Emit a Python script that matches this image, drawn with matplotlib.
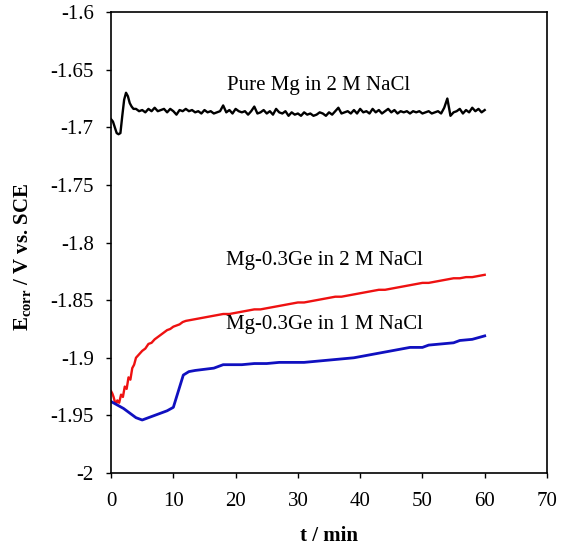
import matplotlib
matplotlib.use("Agg")
import matplotlib.pyplot as plt

plt.rcParams['font.family'] = ['Liberation Serif', 'DejaVu Serif']
plt.rcParams['mathtext.fontset'] = 'custom'
plt.rcParams['mathtext.rm'] = 'Liberation Serif'
plt.rcParams['mathtext.bf'] = 'Liberation Serif:bold'
plt.rcParams['mathtext.it'] = 'Liberation Serif:italic'

# Pure Mg in 2 M NaCl
pure_t = [0, 0.3, 0.6, 0.9, 1.2, 1.5, 1.8, 2.1, 2.4, 2.7, 3.0, 3.3, 3.6,
          4.0, 4.5, 5.0, 5.5, 6.0, 6.5, 7.0, 7.5, 8.0, 8.5,
          9.0, 9.5, 10.0, 10.5, 11.0, 11.5, 12.0, 12.5, 13.0, 13.5,
          14.0, 14.5, 15.0, 15.5, 16.0, 16.5, 17.0, 17.5, 18.0, 18.5,
          19.0, 19.5, 20.0, 20.5, 21.0, 21.5, 22.0, 22.5, 23.0, 23.5,
          24.0, 24.5, 25.0, 25.5, 26.0, 26.5, 27.0, 27.5, 28.0, 28.5,
          29.0, 29.5, 30.0, 30.5, 31.0, 31.5, 32.0, 32.5, 33.0, 33.5,
          34.0, 34.5, 35.0, 35.5, 36.0, 36.5, 37.0, 37.5, 38.0, 38.5,
          39.0, 39.5, 40.0, 40.5, 41.0, 41.5, 42.0, 42.5, 43.0, 43.5,
          44.0, 44.5, 45.0, 45.5, 46.0, 46.5, 47.0, 47.5, 48.0, 48.5,
          49.0, 49.5, 50.0, 50.5, 51.0, 51.5, 52.0, 52.5, 53.0, 53.5,
          54.0, 54.5, 55.0, 55.5, 56.0, 56.5, 57.0, 57.5, 58.0, 58.5,
          59.0, 59.5, 60.0]
pure_e = [-1.693, -1.695, -1.700, -1.705, -1.706, -1.705, -1.690, -1.676, -1.670, -1.673, -1.679, -1.682, -1.684,
          -1.684, -1.686, -1.685, -1.687, -1.684, -1.686, -1.683, -1.686, -1.685, -1.684,
          -1.687, -1.684, -1.686, -1.689, -1.685, -1.686, -1.684, -1.686, -1.685, -1.687,
          -1.686, -1.688, -1.685, -1.687, -1.686, -1.688, -1.687, -1.686, -1.681, -1.687,
          -1.685, -1.688, -1.684, -1.686, -1.687, -1.686, -1.689, -1.686, -1.682, -1.688,
          -1.687, -1.685, -1.688, -1.686, -1.689, -1.684, -1.687, -1.688, -1.686, -1.690,
          -1.687, -1.689, -1.688, -1.690, -1.687, -1.689, -1.688, -1.690, -1.689, -1.687,
          -1.688, -1.690, -1.687, -1.689, -1.686, -1.683, -1.688, -1.687, -1.686, -1.688,
          -1.685, -1.688, -1.684, -1.687, -1.686, -1.688, -1.684, -1.687, -1.685, -1.688,
          -1.686, -1.684, -1.687, -1.685, -1.688, -1.686, -1.687, -1.686, -1.688, -1.686,
          -1.687, -1.686, -1.688, -1.687, -1.686, -1.688, -1.687, -1.686, -1.688, -1.683,
          -1.675, -1.690, -1.687, -1.686, -1.684, -1.688, -1.685, -1.687, -1.683, -1.686,
          -1.684, -1.687, -1.685]

# Mg-0.3Ge in 2 M NaCl
ge2_t = [0, 0.2, 0.4, 0.6, 0.8, 1.0, 1.3, 1.6, 1.9, 2.2, 2.5, 2.8, 3.1, 3.4, 3.7,
         4.0, 4.5, 5.0, 5.5, 6.0, 6.5, 7.0, 7.5, 8.0, 8.5, 9.0, 9.5, 10.0, 10.5,
         11.0, 11.5, 12.0, 13, 14, 15, 16, 17, 18, 19, 20, 21, 22, 23, 24, 25,
         26, 27, 28, 29, 30, 31, 32, 33, 34, 35, 36, 37, 38, 39, 40, 41, 42, 43,
         44, 45, 46, 47, 48, 49, 50, 51, 52, 53, 54, 55, 56, 57, 58, 59, 60]
ge2_e = [-1.929, -1.931, -1.934, -1.938, -1.940, -1.937, -1.939, -1.932, -1.934, -1.925,
         -1.927, -1.917, -1.919, -1.909, -1.906,
         -1.900, -1.897, -1.894, -1.892, -1.888, -1.887, -1.884, -1.882, -1.880, -1.878,
         -1.876, -1.875, -1.873, -1.872, -1.871, -1.869, -1.868,
         -1.867, -1.866, -1.865, -1.864, -1.863, -1.862, -1.862, -1.861, -1.860, -1.859,
         -1.858, -1.858, -1.857, -1.856, -1.855, -1.854, -1.853, -1.852, -1.852, -1.851,
         -1.850, -1.849, -1.848, -1.847, -1.847, -1.846, -1.845, -1.844, -1.843, -1.842,
         -1.841, -1.841, -1.840, -1.839, -1.838, -1.837, -1.836, -1.835, -1.835, -1.834,
         -1.833, -1.832, -1.831, -1.831, -1.830, -1.830, -1.829, -1.828]

# Mg-0.3Ge in 1 M NaCl
ge1_t = [0, 1, 2, 3, 4, 5, 6, 7, 8, 9, 10, 10.8, 11.6, 12.5, 13.5, 15, 16.5, 18, 19,
         21, 23, 25, 27, 29, 31, 33, 35, 37, 39, 41, 43, 45, 47,
         48, 50, 51, 53, 55, 56, 58, 60]
ge1_e = [-1.938, -1.941, -1.944, -1.948, -1.952, -1.954, -1.952, -1.950, -1.948, -1.946, -1.943,
         -1.929, -1.915, -1.912, -1.911, -1.910, -1.909, -1.906, -1.906,
         -1.906, -1.905, -1.905, -1.904, -1.904, -1.904, -1.903, -1.902, -1.901, -1.900,
         -1.898, -1.896, -1.894, -1.892,
         -1.891, -1.891, -1.889, -1.888, -1.887, -1.885, -1.884, -1.881]

labels = ["Pure Mg in 2 M NaCl", "Mg-0.3Ge in 2 M NaCl", "Mg-0.3Ge in 1 M NaCl"]
xticks = [0, 10, 20, 30, 40, 50, 60, 70]
yticks = [-2.0, -1.95, -1.9, -1.85, -1.8, -1.75, -1.7, -1.65, -1.6]
ytick_labels = ["-2", "-1.95", "-1.9", "-1.85", "-1.8", "-1.75", "-1.7", "-1.65", "-1.6"]

fig = plt.figure(figsize=(5.61, 5.5), dpi=100)
ax = fig.add_axes([0.198, 0.14, 0.777, 0.838])

ax.plot(pure_t, pure_e, color='black', lw=1.7)
ax.plot(ge2_t, ge2_e, color='#ee1111', lw=1.7)
ax.plot(ge1_t, ge1_e, color='#1010c0', lw=2.0)

ax.text(33.3, -1.6635, labels[0], ha='center', va='center', fontsize=15)
ax.text(34.3, -1.8155, labels[1], ha='center', va='center', fontsize=15)
ax.text(34.2, -1.871, labels[2], ha='center', va='center', fontsize=15)

ax.set_xlim(0, 70)
ax.set_ylim(-2.0, -1.6)
ax.set_xticks(xticks)
ax.set_yticks(yticks)
ax.set_yticklabels(ytick_labels)
ax.tick_params(direction='out', length=3.5, width=1, labelsize=15)
ax.tick_params(axis='x', pad=10)
ax.tick_params(axis='y', pad=9)
for s in ax.spines.values():
    s.set_linewidth(1.2)

ax.set_xlabel("t / min", fontsize=15, fontweight='bold')
ax.xaxis.set_label_coords(0.5, -0.115)
ax.set_ylabel(r"$\mathbf{E_{corr}}$ / V vs. SCE", fontsize=15, fontweight='bold')
ax.yaxis.set_label_coords(-0.18, 0.47)

fig.savefig("out.png", dpi=100)
